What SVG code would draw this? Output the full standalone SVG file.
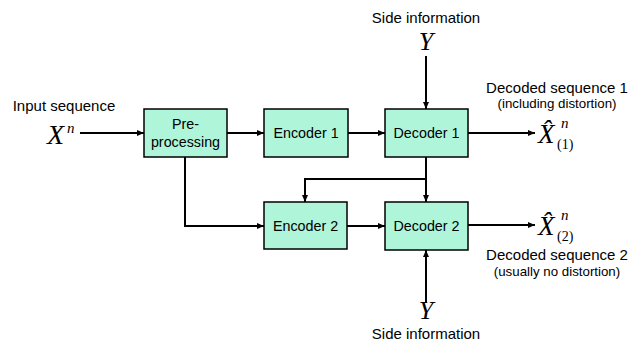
<svg xmlns="http://www.w3.org/2000/svg" width="638" height="347" viewBox="0 0 638 347">
<style>
.box{fill:#aef5da;stroke:#000;stroke-width:1.5}
.lbl{font-family:"Liberation Sans",Arial,sans-serif;font-size:15px;fill:#000;text-anchor:middle}
.bl{font-family:"Liberation Sans",Arial,sans-serif;font-size:14.3px;fill:#000;text-anchor:middle}
.sm{font-family:"Liberation Sans",Arial,sans-serif;font-size:13.3px;fill:#000;text-anchor:middle}
.m{font-family:"Liberation Serif","Times New Roman",serif;font-style:italic;fill:#000}
.r{font-family:"Liberation Serif","Times New Roman",serif;font-style:normal;fill:#000}
.c{fill:none;stroke:#000;stroke-width:2}
</style>
<defs>
<marker id="ah" markerWidth="8" markerHeight="8" refX="7" refY="4" orient="auto" markerUnits="userSpaceOnUse">
<path d="M0,1 L7,4 L0,7 Z" fill="#000"/>
</marker>
</defs>
<rect width="638" height="347" fill="#fff"/>
<g id="connectors">
<path class="c" d="M80,133 H144" marker-end="url(#ah)"/>
<path class="c" d="M227,133 H264" marker-end="url(#ah)"/>
<path class="c" d="M348,133 H385" marker-end="url(#ah)"/>
<path class="c" d="M468,133 H535" marker-end="url(#ah)"/>
<path class="c" d="M426,56 V109" marker-end="url(#ah)"/>
<path class="c" d="M426,157 V202" marker-end="url(#ah)"/>
<path class="c" d="M426,179 H305 V202" marker-end="url(#ah)"/>
<path class="c" d="M185,157 V226 H264" marker-end="url(#ah)"/>
<path class="c" d="M347,226 H385" marker-end="url(#ah)"/>
<path class="c" d="M468,225 H535" marker-end="url(#ah)"/>
<path class="c" d="M426,303 V250" marker-end="url(#ah)"/>
</g>
<g id="input">
<text class="lbl" x="64" y="111">Input sequence</text>
<text class="m" x="47" y="144" font-size="28">X</text>
<text class="m" x="67" y="133" font-size="15">n</text>
</g>
<g id="preprocessing">
<rect class="box" x="144" y="109" width="83" height="48"/>
<text class="bl" x="185.5" y="129">Pre-</text>
<text class="bl" x="185.5" y="147">processing</text>
</g>
<g id="encoder1">
<rect class="box" x="264" y="109" width="84" height="48"/>
<text class="bl" x="306" y="138">Encoder 1</text>
</g>
<g id="decoder1">
<rect class="box" x="385" y="109" width="83" height="48"/>
<text class="bl" x="426.5" y="138">Decoder 1</text>
</g>
<g id="encoder2">
<rect class="box" x="264" y="202" width="83" height="47"/>
<text class="bl" x="305.5" y="231">Encoder 2</text>
</g>
<g id="decoder2">
<rect class="box" x="385" y="202" width="83" height="48"/>
<text class="bl" x="426.5" y="231">Decoder 2</text>
</g>
<g id="side-info-top">
<text class="lbl" x="426" y="23">Side information</text>
<text class="m" x="426" y="50" font-size="26" text-anchor="middle">Y</text>
</g>
<g id="side-info-bottom">
<text class="m" x="426" y="319" font-size="26" text-anchor="middle">Y</text>
<text class="lbl" x="426" y="339">Side information</text>
</g>
<g id="output1">
<text class="lbl" x="557" y="93">Decoded sequence 1</text>
<text class="sm" x="557" y="108">(including distortion)</text>
<text class="m" x="538" y="143" font-size="27">X̂</text>
<text class="m" x="561" y="128" font-size="15">n</text>
<text class="r" x="557" y="149" font-size="14">(1)</text>
</g>
<g id="output2">
<text class="m" x="538" y="235" font-size="27">X̂</text>
<text class="m" x="561" y="220" font-size="15">n</text>
<text class="r" x="557" y="241" font-size="14">(2)</text>
<text class="lbl" x="557" y="260">Decoded sequence 2</text>
<text class="sm" x="557" y="276">(usually no distortion)</text>
</g>
</svg>
